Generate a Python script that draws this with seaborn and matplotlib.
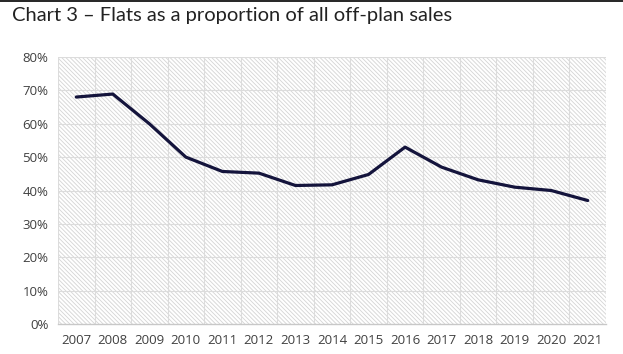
import numpy as np
import pandas as pd
import matplotlib
matplotlib.use("Agg")
import matplotlib.pyplot as plt
import seaborn as sns
from matplotlib.patches import Rectangle

# Flats as a share of off-plan sales
years = ["2007", "2008", "2009", "2010", "2011", "2012", "2013", "2014",
         "2015", "2016", "2017", "2018", "2019", "2020", "2021"]
share = [0.68, 0.689, 0.60, 0.50, 0.457, 0.452, 0.415, 0.417,
         0.448, 0.53, 0.47, 0.432, 0.41, 0.40, 0.37]

df = pd.DataFrame({"year": years, "share": share})
df["pos"] = np.arange(len(years))

sns.set_theme(style="white")
plt.rcParams["hatch.linewidth"] = 0.6
plt.rcParams["hatch.color"] = "#d4d4d4"

fig = plt.figure(figsize=(6.23, 3.54), dpi=100)
ax = fig.add_axes([58 / 623, 1 - 324 / 354, 548 / 623, 267 / 354])

# hatched plot area
ax.add_patch(Rectangle((0, 0), 1, 1, transform=ax.transAxes, facecolor="white",
                       edgecolor="#d4d4d4", hatch="\\\\\\\\\\\\\\\\", lw=0, zorder=0))

# grid lines
for v in np.arange(0.1, 0.81, 0.1):
    ax.axhline(v, color="#dcdcdc", lw=0.8, zorder=1)
for b in np.arange(-0.5, len(years), 1.0):
    ax.axvline(b, color="#dcdcdc", lw=0.8, zorder=1)

sns.lineplot(data=df, x="pos", y="share", color="#14143c", lw=2.3, ax=ax, zorder=3)

ax.set_xlim(-0.5, len(years) - 0.5)
ax.set_ylim(0, 0.8)
ax.set_xticks(df["pos"])
ax.set_xticklabels(years)
ax.set_yticks(np.arange(0, 0.81, 0.1))
ax.set_yticklabels([f"{int(round(v * 100))}%" for v in np.arange(0, 0.81, 0.1)])
ax.tick_params(axis="both", labelsize=9.5, colors="#404040", length=0, pad=7)
for lab in ax.get_xticklabels() + ax.get_yticklabels():
    lab.set_family(["Open Sans", "DejaVu Sans"])
ax.set_xlabel("")
ax.set_ylabel("")
for s in ["top", "right", "left"]:
    ax.spines[s].set_visible(False)
ax.spines["bottom"].set_color("#c8c8c8")
ax.spines["bottom"].set_linewidth(1.0)
ax.spines["bottom"].set_zorder(2)

fig.text(12 / 623, 1 - 16 / 354, "Chart 3 \u2013 Flats as a proportion of all off-plan sales",
         fontsize=14.5, color="#222222", va="center", ha="left",
         family=["Lato", "DejaVu Sans"])
fig.add_artist(plt.Line2D([0, 1], [0.998, 0.998], color="black", lw=1.2,
                          transform=fig.transFigure))

fig.savefig("out.png", dpi=100)
